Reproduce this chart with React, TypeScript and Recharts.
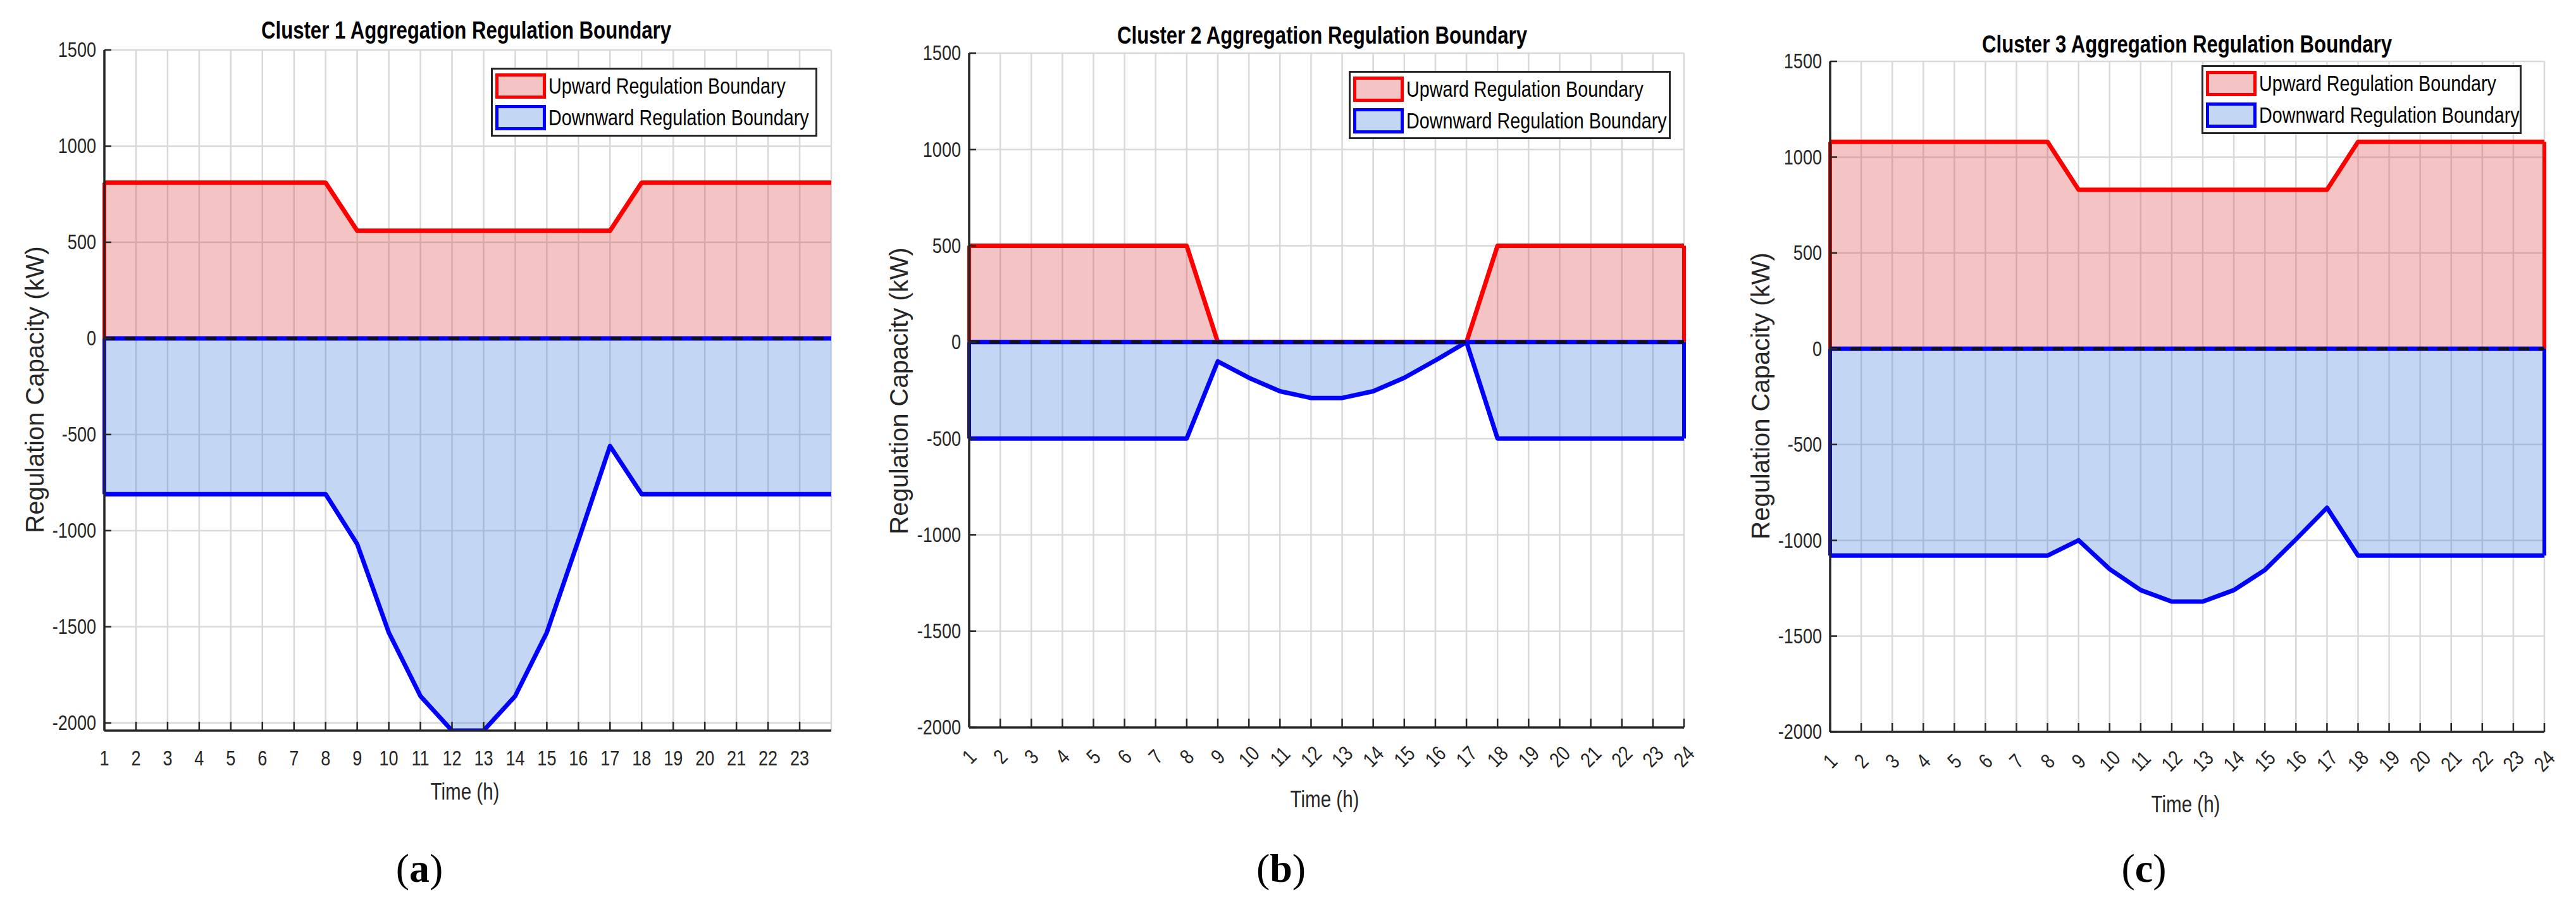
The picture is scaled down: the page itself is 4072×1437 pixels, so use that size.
import React from "react";
import { ComposedChart, Area, XAxis, YAxis, CartesianGrid, ReferenceLine, Legend } from "recharts";

// hours of the day shown on the x axis
const hours = [1, 2, 3, 4, 5, 6, 7, 8, 9, 10, 11, 12, 13, 14, 15, 16, 17, 18, 19, 20, 21, 22, 23, 24];
const hourTicksShort = [1, 2, 3, 4, 5, 6, 7, 8, 9, 10, 11, 12, 13, 14, 15, 16, 17, 18, 19, 20, 21, 22, 23];
const capacityTicks = [-2000, -1500, -1000, -500, 0, 500, 1000, 1500];

// regulation boundaries (kW)
const cluster1Up = [810, 810, 810, 810, 810, 810, 810, 810, 560, 560, 560, 560, 560, 560, 560, 560, 560, 810, 810, 810, 810, 810, 810, 810];
const cluster1Down = [-810, -810, -810, -810, -810, -810, -810, -810, -1070, -1530, -1860, -2040, -2040, -1860, -1530, -1050, -560, -810, -810, -810, -810, -810, -810, -810];

const cluster2Up = [500, 500, 500, 500, 500, 500, 500, 500, 0, 0, 0, 0, 0, 0, 0, 0, 0, 500, 500, 500, 500, 500, 500, 500];
const cluster2Down = [-500, -500, -500, -500, -500, -500, -500, -500, -100, -185, -255, -290, -290, -255, -185, -95, 0, -500, -500, -500, -500, -500, -500, -500];

const cluster3Up = [1080, 1080, 1080, 1080, 1080, 1080, 1080, 1080, 830, 830, 830, 830, 830, 830, 830, 830, 830, 1080, 1080, 1080, 1080, 1080, 1080, 1080];
const cluster3Down = [-1080, -1080, -1080, -1080, -1080, -1080, -1080, -1080, -1000, -1150, -1260, -1320, -1320, -1260, -1155, -995, -830, -1080, -1080, -1080, -1080, -1080, -1080, -1080];

const legendLabels = ["Upward Regulation Boundary", "Downward Regulation Boundary"];

const AXIS = "#262626";
const RED = "#FF0000";
const BLUE = "#0000FF";
// no Arial Narrow here: squeeze Liberation Sans horizontally instead
const SANS = "'Liberation Sans', Arial, sans-serif";
const SERIF = "'Liberation Serif', 'Times New Roman', serif";
const SQUEEZE = 0.82;

const panels = [
  {
    title: "Cluster 1 Aggregation Regulation Boundary", tag: "a",
    up: cluster1Up, down: cluster1Down, xTicks: hourTicksShort, yMin: -2040, rotate: false, closeRight: false,
    left: 0, width: 1360, margin: { top: 79, right: 46, left: 45, bottom: 222 },
    titlePos: [737, 48], yLabelPos: [55, 616], xLabelPos: [735, 1252], tagPos: [663, 1373],
    legend: { left: 776, top: 107, width: 516, height: 109 },
  },
  {
    title: "Cluster 2 Aggregation Regulation Boundary", tag: "b",
    up: cluster2Up, down: cluster2Down, xTicks: hours, yMin: -2000, rotate: true, closeRight: true,
    left: 1360, width: 1360, margin: { top: 84, right: 58, left: 52, bottom: 227 },
    titlePos: [730, 56], yLabelPos: [61, 618], xLabelPos: [734, 1264], tagPos: [665, 1373],
    legend: { left: 772, top: 112, width: 509, height: 108 },
  },
  {
    title: "Cluster 3 Aggregation Regulation Boundary", tag: "c",
    up: cluster3Up, down: cluster3Down, xTicks: hours, yMin: -2000, rotate: true, closeRight: true,
    left: 2720, width: 1352, margin: { top: 97, right: 50, left: 53, bottom: 220 },
    titlePos: [737, 70], yLabelPos: [63, 626], xLabelPos: [735, 1272], tagPos: [669, 1373],
    legend: { left: 760, top: 103, width: 506, height: 109 },
  },
];

function XTick(props: any) {
  const { x, y, payload, rotate } = props;
  const ty = rotate ? y + 46 : y + 55;
  const tf = rotate
    ? `translate(${x} ${ty}) rotate(-45) scale(${SQUEEZE} 1)`
    : `translate(${x} ${ty}) scale(${SQUEEZE} 1)`;
  return (
    <g>
      <line x1={x} x2={x} y1={y} y2={y - 14} stroke={AXIS} strokeWidth={2.5} />
      <text x={0} y={0} transform={tf} textAnchor="middle" dominantBaseline={rotate ? "central" : "auto"}
        fontFamily={SANS} fontSize={33} fill={AXIS}>{payload.value}</text>
    </g>
  );
}

function YTick(props: any) {
  const { x, y, payload } = props;
  return (
    <g>
      <line x1={x} x2={x + 11} y1={y} y2={y} stroke={AXIS} strokeWidth={2.5} />
      <text x={0} y={0} transform={`translate(${x - 13} ${y}) scale(${SQUEEZE} 1)`} textAnchor="end" dominantBaseline="central"
        fontFamily={SANS} fontSize={33} fill={AXIS}>
        {payload.value}
      </text>
    </g>
  );
}

function LegendBox({ box }: any) {
  const colors = [[RED, "#F4C3C3"], [BLUE, "#C3D6F4"]];
  return (
    <div style={{ width: box.width, height: box.height, boxSizing: "border-box", border: `3px solid ${AXIS}`, background: "#fff", position: "relative" }}>
      {legendLabels.map((label, i) => (
        <div key={label} style={{ position: "absolute", left: 4, top: 6 + i * 50, height: 40, display: "flex", alignItems: "center" }}>
          <span style={{ display: "inline-block", width: 80, height: 40, boxSizing: "border-box", border: `5px solid ${colors[i][0]}`, background: colors[i][1] }} />
          <span style={{ marginLeft: 4, fontFamily: SANS, fontSize: 35, color: "#000", whiteSpace: "nowrap", display: "inline-block", transform: `scaleX(${SQUEEZE})`, transformOrigin: "left center" }}>{label}</span>
        </div>
      ))}
    </div>
  );
}

function Panel({ p }: any) {
  const rows = hours.map((h, i) => ({ hour: h, up: p.up[i], down: p.down[i] }));
  const first = hours[0];
  const last = hours[hours.length - 1];
  const center = (pos: number[], squeeze: number) => ({
    position: "absolute" as const, left: pos[0], top: pos[1], whiteSpace: "nowrap" as const,
    transform: `translate(-50%, -50%) scaleX(${squeeze})`,
  });
  return (
    <div style={{ position: "absolute", left: p.left, top: 0, width: p.width, height: 1437 }}>
      <ComposedChart width={p.width} height={1437} data={rows} margin={p.margin}>
        <CartesianGrid stroke="#d9d9d9" strokeWidth={2.5} />
        <Area dataKey="up" type="linear" baseValue={0} stroke={RED} strokeWidth={7} strokeLinejoin="round"
          fill="#DA3737" fillOpacity={0.3} dot={false} activeDot={false} isAnimationActive={false} />
        <Area dataKey="down" type="linear" baseValue={0} stroke={BLUE} strokeWidth={7} strokeLinejoin="round"
          fill="#3776DA" fillOpacity={0.3} dot={false} activeDot={false} isAnimationActive={false} />
        <ReferenceLine segment={[{ x: first, y: 0 }, { x: first, y: p.up[0] }]} stroke={RED} strokeWidth={6} />
        <ReferenceLine segment={[{ x: first, y: 0 }, { x: first, y: p.down[0] }]} stroke={BLUE} strokeWidth={6} />
        {p.closeRight && (
          <ReferenceLine segment={[{ x: last, y: 0 }, { x: last, y: p.up[p.up.length - 1] }]} stroke={RED} strokeWidth={6} />
        )}
        {p.closeRight && (
          <ReferenceLine segment={[{ x: last, y: 0 }, { x: last, y: p.down[p.down.length - 1] }]} stroke={BLUE} strokeWidth={6} />
        )}
        <ReferenceLine y={0} stroke={BLUE} strokeWidth={7} />
        <ReferenceLine y={0} stroke="#111" strokeWidth={5} strokeDasharray="17 15" />
        <XAxis dataKey="hour" type="number" domain={[1, 24]} ticks={p.xTicks} interval={0} allowDataOverflow
          height={60} tickSize={0} tickMargin={0} tickLine={false} axisLine={{ stroke: AXIS, strokeWidth: 3.5 }}
          tick={(t: any) => <XTick {...t} rotate={p.rotate} />} />
        <YAxis type="number" domain={[p.yMin, 1500]} ticks={capacityTicks} interval={0} allowDataOverflow
          width={120} tickSize={0} tickMargin={0} tickLine={false} axisLine={{ stroke: AXIS, strokeWidth: 3.5 }}
          tick={(t: any) => <YTick {...t} />} />
        <Legend layout="horizontal" verticalAlign="middle" align="center"
          wrapperStyle={{ position: "absolute", left: p.legend.left, top: p.legend.top, width: p.legend.width, height: p.legend.height }}
          content={() => <LegendBox box={p.legend} />} />
      </ComposedChart>
      <div style={{ ...center(p.titlePos, SQUEEZE), fontFamily: SANS, fontWeight: "bold", fontSize: 38, color: "#000" }}>{p.title}</div>
      <div style={{ ...center(p.yLabelPos, 1), transform: "translate(-50%, -50%) rotate(-90deg)", fontFamily: SANS, fontSize: 40, color: AXIS }}>
        Regulation Capacity (kW)
      </div>
      <div style={{ ...center(p.xLabelPos, SQUEEZE), fontFamily: SANS, fontSize: 36, color: AXIS }}>Time (h)</div>
      <div style={{ ...center(p.tagPos, 1), fontFamily: SERIF, fontSize: 64, color: "#000" }}>
        (<b>{p.tag}</b>)
      </div>
    </div>
  );
}

export default function App() {
  return (
    <div style={{ position: "absolute", left: 0, top: 0, width: 4072, height: 1437, background: "#fff", overflow: "hidden" }}>
      {panels.map((p) => (
        <Panel key={p.tag} p={p} />
      ))}
    </div>
  );
}
